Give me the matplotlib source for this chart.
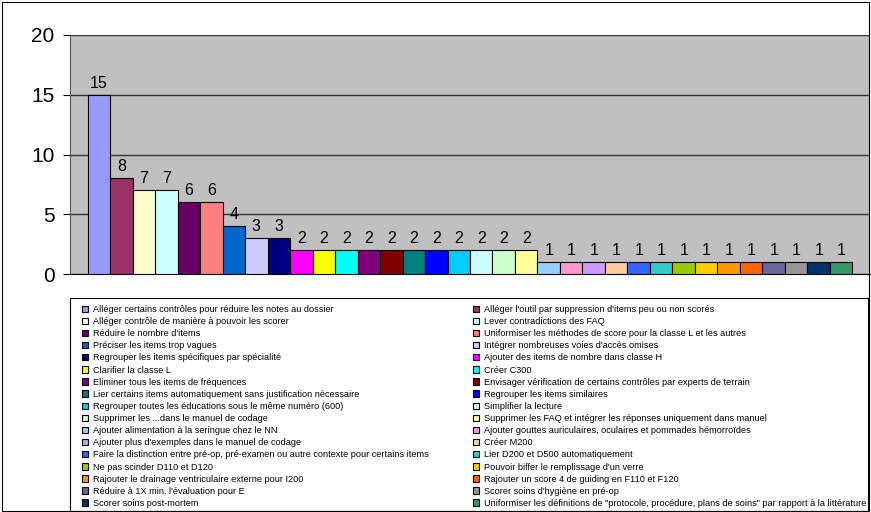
import matplotlib.pyplot as plt
from matplotlib.patches import Rectangle

plt.rcParams['font.family'] = ['Liberation Sans', 'DejaVu Sans']

# Suggestions and number of mentions
labels = [
    "Alléger certains contrôles pour réduire les notes au dossier",
    "Alléger l'outil par suppression d'items peu ou non scorés",
    "Alléger contrôle de manière à pouvoir les scorer",
    "Lever contradictions des FAQ",
    "Réduire le nombre d'items",
    "Uniformiser les méthodes de score pour la classe L et les autres",
    "Préciser les items trop vagues",
    "Intégrer nombreuses voies d'accès omises",
    "Regrouper les items spécifiques par spécialité",
    "Ajouter des items de nombre dans classe H",
    "Clarifier la classe L",
    "Créer C300",
    "Eliminer tous les items de fréquences",
    "Envisager vérification de certains contrôles par experts de terrain",
    "Lier certains items automatiquement sans justification nécessaire",
    "Regrouper les items similaires",
    "Regrouper toutes les éducations sous le même numéro (600)",
    "Simplifier la lecture",
    "Supprimer les ...dans le manuel de codage",
    "Supprimer les FAQ et intégrer les réponses uniquement dans manuel",
    "Ajouter alimentation à la seringue chez le NN",
    "Ajouter gouttes auriculaires, oculaires et pommades hémorroïdes",
    "Ajouter plus d'exemples dans le manuel de codage",
    "Créer M200",
    "Faire la distinction entre pré-op, pré-examen ou autre contexte pour certains items",
    "Lier D200 et D500 automatiquement",
    "Ne pas scinder D110 et D120",
    "Pouvoir biffer le remplissage d'un verre",
    "Rajouter le drainage ventriculaire externe pour I200",
    "Rajouter un score 4 de guiding en F110 et F120",
    "Réduire à 1X min. l'évaluation pour E",
    "Scorer soins d'hygiène en pré-op",
    "Scorer soins post-mortem",
    "Uniformiser les définitions de \"protocole, procédure, plans de soins\" par rapport à la littérature",
]
values = [15, 8, 7, 7, 6, 6, 4, 3, 3,
          2, 2, 2, 2, 2, 2, 2, 2, 2, 2, 2,
          1, 1, 1, 1, 1, 1, 1, 1, 1, 1, 1, 1, 1, 1]
colors = ['#9999FF', '#993366', '#FFFFCC', '#CCFFFF', '#660066', '#FF8080',
          '#0066CC', '#CCCCFF', '#000080', '#FF00FF', '#FFFF00', '#00FFFF',
          '#800080', '#800000', '#008080', '#0000FF', '#00CCFF', '#CCFFFF',
          '#CCFFCC', '#FFFF99', '#99CCFF', '#FF99CC', '#CC99FF', '#FFCC99',
          '#3366FF', '#33CCCC', '#99CC00', '#FFCC00', '#FF9900', '#FF6600',
          '#666699', '#969696', '#003366', '#339966']

fig = plt.figure(figsize=(8.71, 5.12), dpi=100)
ax = fig.add_axes([70 / 871, 1 - 274 / 512, 800 / 871, 239 / 512])
ax.set_facecolor('#C0C0C0')

handles = []
for i, (lab, v, c) in enumerate(zip(labels, values, colors)):
    b = ax.bar(i, v, width=1.0, color=c, edgecolor='black', linewidth=0.8,
               label=lab, zorder=3)
    handles.append(b)
    ax.text(i, v + 0.35, str(v), ha='center', va='bottom', fontsize=11.5, zorder=4)

ax.set_xlim(-1.28, 34.28)
ax.set_ylim(0, 20)
ax.set_yticks([0, 5, 10, 15, 20])
ax.tick_params(axis='y', labelsize=15, length=5, direction='out', pad=6)
ax.set_xticks([])
ax.yaxis.grid(True, color='#333333', linewidth=1, zorder=1)
for s in ['top', 'right']:
    ax.spines[s].set_visible(False)
ax.spines['left'].set_color('#555555')
ax.spines['bottom'].set_color('black')

# legend in two columns: odd entries on the left, even entries on the right
leg_kw = dict(loc='upper left', fontsize=6.6, frameon=False,
              handlelength=0.7, handleheight=0.7, handletextpad=0.45,
              labelspacing=0.34, borderaxespad=0, borderpad=0)
left = list(range(0, 34, 2))
right = list(range(1, 34, 2))
leg1 = fig.legend([handles[i] for i in left], [labels[i] for i in left],
                  bbox_to_anchor=(82 / 871, 1 - 305 / 512), **leg_kw)
leg2 = fig.legend([handles[i] for i in right], [labels[i] for i in right],
                  bbox_to_anchor=(473 / 871, 1 - 305 / 512), **leg_kw)
for lg in (leg1, leg2):
    for h in lg.legend_handles:
        h.set_linewidth(0.8)

# legend frame
fig.patches.append(Rectangle((70 / 871, 1 - 511 / 512), 798 / 871, 213 / 512,
                             transform=fig.transFigure, fill=False,
                             edgecolor='black', linewidth=0.8))
# outer chart border
fig.patches.append(Rectangle((0.002, 0.002), 0.996, 0.994, transform=fig.transFigure,
                             fill=False, edgecolor='black', linewidth=0.8))

fig.savefig('out.png', dpi=100)
